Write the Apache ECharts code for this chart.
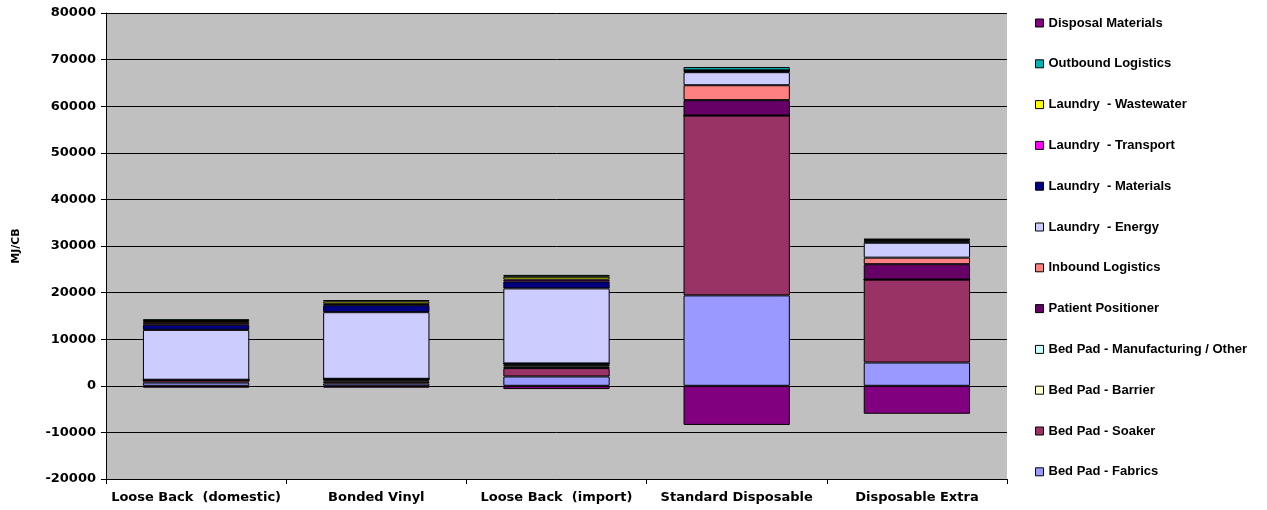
<!DOCTYPE html>
<html>
<head>
<meta charset="utf-8">
<script src="https://cdn.jsdelivr.net/npm/echarts@6/dist/echarts.min.js"></script>
<style>
  html, body { margin: 0; padding: 0; background: #fff; }
  #chart { width: 1267px; height: 510px; }
</style>
</head>
<body>
<div id="chart"></div>
<script>
// categories along the x axis
const categories = ['Loose Back  (domestic)', 'Bonded Vinyl', 'Loose Back  (import)', 'Standard Disposable', 'Disposable Extra'];

// series values, MJ/CB (bottom of the stack first)
const bedPadFabrics     = [700, 500, 2000, 19400, 5000];
const bedPadSoaker      = [600, 400, 1800, 38600, 17800];
const bedPadBarrier     = [0, 300, 350, 0, 0];
const bedPadOther       = [0, 300, 350, 0, 0];
const patientPositioner = [0, 0, 300, 3300, 3300];
const inboundLogistics  = [0, 0, 0, 3200, 1400];
const laundryEnergy     = [10700, 14300, 16100, 2800, 3200];
const laundryMaterials  = [1100, 1500, 1500, 200, 300];
const laundryTransport  = [400, 300, 400, 100, 200];
const laundryWastewater = [400, 500, 600, 100, 200];
const outboundLogistics = [400, 300, 400, 700, 100];
const disposalMaterials = [-400, -400, -700, -8400, -6000];

// y axis ticks
const yMin = -20000, yMax = 80000, yStep = 10000;

const seriesDefs = [
  { name: 'Bed Pad - Fabrics', data: bedPadFabrics, color: '#9999FF' },
  { name: 'Bed Pad - Soaker', data: bedPadSoaker, color: '#993366' },
  { name: 'Bed Pad - Barrier', data: bedPadBarrier, color: '#FFFFCC' },
  { name: 'Bed Pad - Manufacturing / Other', data: bedPadOther, color: '#CCFFFF' },
  { name: 'Patient Positioner', data: patientPositioner, color: '#660066' },
  { name: 'Inbound Logistics', data: inboundLogistics, color: '#FF8080' },
  { name: 'Laundry  - Energy', data: laundryEnergy, color: '#CCCCFF' },
  { name: 'Laundry  - Materials', data: laundryMaterials, color: '#000080' },
  { name: 'Laundry  - Transport', data: laundryTransport, color: '#FF00FF' },
  { name: 'Laundry  - Wastewater', data: laundryWastewater, color: '#FFFF00' },
  { name: 'Outbound Logistics', data: outboundLogistics, color: '#00B4B4' },
  { name: 'Disposal Materials', data: disposalMaterials, color: '#800080' }
];

const axisFont = 'DejaVu Sans, sans-serif';
const legendFont = 'Liberation Sans, Arial, sans-serif';
let chart = echarts.init(document.getElementById('chart'));

chart.setOption({
  animation: false,
  backgroundColor: '#ffffff',
  grid: {
    left: 106,
    right: 260,
    top: 13,
    height: 466,
    show: true,
    backgroundColor: '#C0C0C0',
    borderWidth: 0
  },
  legend: {
    orient: 'vertical',
    left: 1030,
    top: 11,
    itemWidth: 8,
    itemHeight: 8,
    itemGap: 26.8,
    icon: 'rect',
    data: seriesDefs.map(s => s.name).reverse(),
    textStyle: { fontFamily: legendFont, fontSize: 13, fontWeight: 'bold', color: '#000', lineHeight: 14 },
    itemStyle: { borderColor: '#000', borderWidth: 1 }
  },
  xAxis: {
    type: 'category',
    data: categories,
    axisLine: { onZero: false, lineStyle: { color: '#000', width: 1 } },
    axisTick: { show: true, interval: 0, length: 5, lineStyle: { color: '#000' } },
    axisLabel: { interval: 0, fontFamily: axisFont, fontSize: 13, fontWeight: 'bold', color: '#000', margin: 12 }
  },
  yAxis: {
    type: 'value',
    min: yMin,
    max: yMax,
    interval: yStep,
    name: 'MJ/CB',
    nameLocation: 'middle',
    nameGap: 84,
    nameTextStyle: { fontFamily: axisFont, fontSize: 11, fontWeight: 'bold', color: '#000' },
    axisLine: { show: true, lineStyle: { color: '#000', width: 1 } },
    axisTick: { show: true, length: 5, lineStyle: { color: '#000' } },
    axisLabel: {
      fontFamily: axisFont, fontSize: 13, fontWeight: 'bold', color: '#000', margin: 10,
      formatter: v => String(v)
    },
    splitLine: { show: true, lineStyle: { color: '#000', width: 1 } }
  },
  series: seriesDefs.map(s => ({
    name: s.name,
    type: 'bar',
    stack: 'total',
    data: s.data,
    barCategoryGap: '41%',
    itemStyle: { color: s.color, borderColor: '#000', borderWidth: 1 }
  }))
});
</script>
</body>
</html>
